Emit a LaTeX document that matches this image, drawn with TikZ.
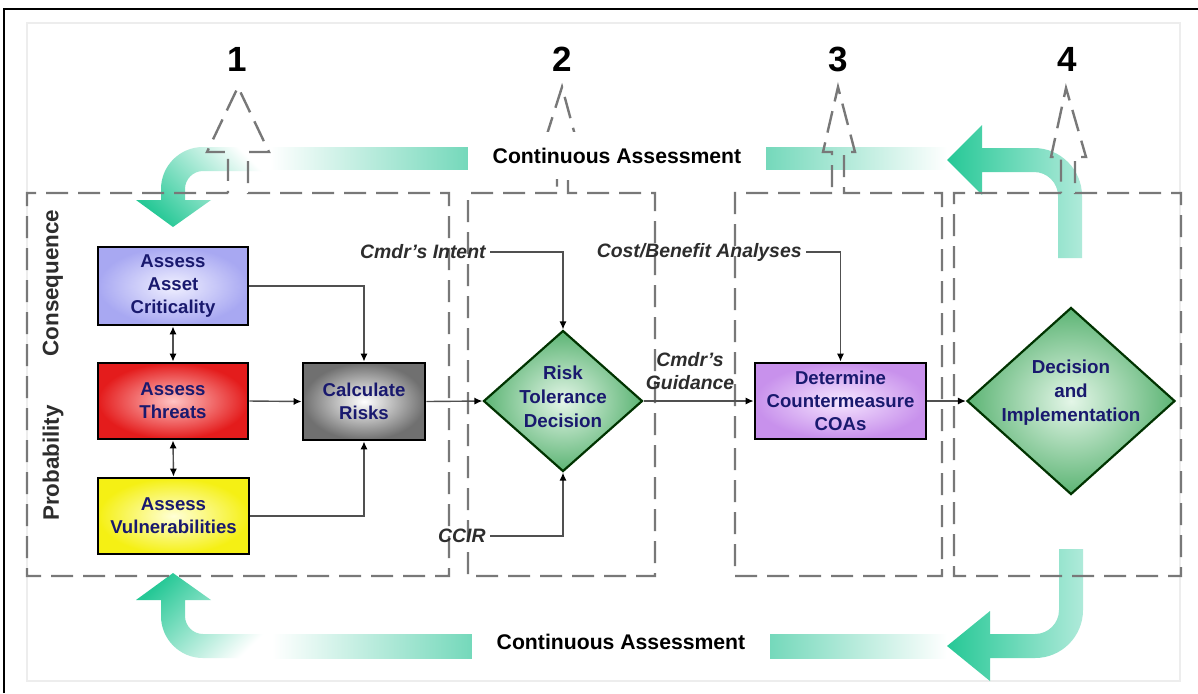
\documentclass[tikz,border=0pt]{standalone}
\usepackage{fontspec}
\setmainfont{Liberation Sans}
\usetikzlibrary{shapes.geometric,arrows.meta}
\definecolor{navy}{RGB}{25,25,110}
\definecolor{txtgray}{RGB}{45,45,45}
\definecolor{dashgray}{RGB}{120,120,120}
\definecolor{cgreen}{RGB}{38,200,150}
\definecolor{cmint}{RGB}{175,234,218}
\definecolor{cmid}{RGB}{115,216,186}
\definecolor{linegray}{RGB}{80,80,80}
\begin{document}
\begin{tikzpicture}[x=0.5pt,y=-0.5pt,
  procbox/.style={draw=black, line width=1.4pt, align=center, inner sep=0pt,
    font=\fontsize{9.3}{11.5}\selectfont\bfseries, text=navy},
  diam/.style={diamond, draw=black!80!green, line width=1.1pt, inner sep=0pt,
    inner color={rgb,255:red,228;green,246;blue,232}, outer color={rgb,255:red,92;green,180;blue,116}},
  dtext/.style={align=center, inner sep=0pt, font=\fontsize{9.4}{12}\selectfont\bfseries, text=navy},
  conn/.style={draw=linegray, line width=0.7pt, -{Latex[length=4pt,width=3.6pt,color=black]}},
  biconn/.style={draw=linegray, line width=0.7pt, {Latex[length=4pt,width=3.6pt,color=black]}-{Latex[length=4pt,width=3.6pt,color=black]}},
  lab/.style={font=\fontsize{9.7}{11.5}\selectfont\bfseries\itshape, text=txtgray, inner sep=2pt},
  dline/.style={draw=dashgray, line width=1.2pt, dash pattern=on 11pt off 5pt, line join=miter},
  num/.style={font=\fontsize{17.5}{20}\selectfont\bfseries, text=black},
  side/.style={font=\fontsize{11.2}{13}\selectfont\bfseries, text=txtgray, rotate=90},
  cabox/.style={fill=white, minimum width=149pt, minimum height=23.5pt, inner sep=0pt,
    font=\fontsize{10.6}{12}\selectfont\bfseries, text=black}
]
\useasboundingbox (0,0) rectangle (1198,693);
\fill[white] (0,0) rectangle (1198,693);
% frames
\draw[black, line width=1pt] (4,693) -- (4,9) -- (1198,9);
\draw[black!7, line width=0.6pt] (27,23) rectangle (1180,681);

% ---- green continuous-assessment arrows ----
% top band pieces
\shade[left color=white, right color=cmid] (270,147) rectangle (470,169);
\shade[left color=cmid, right color=white] (764,147) rectangle (947,169);
% top-right arrow
\shade[left color=cgreen, right color=cmint]
  (1058,258) -- (1058,196) .. controls (1058,182.75) and (1047.25,172) .. (1034,172)
  -- (982,172) -- (982,195) -- (947,160) -- (982,125) -- (982,148) -- (1034,148)
  .. controls (1060.5,148) and (1082,169.5) .. (1082,196) -- (1082,258) -- cycle;
% top-left arrow
\shade[top color=white, bottom color=cgreen, shading angle=-45]
  (136,200) -- (173,227) -- (211,200) -- (185,200) -- (185,189)
  .. controls (185,179.1) and (193.1,171) .. (203,171) -- (270,171) -- (270,147)
  -- (203,147) .. controls (179.8,147) and (161,165.8) .. (161,189) -- (161,200) -- cycle;
% bottom band pieces
\shade[left color=white, right color=cmid] (272,634) rectangle (474,658);
\shade[left color=cmid, right color=white] (768,634) rectangle (947,658);
% bottom-right arrow
\shade[left color=cgreen, right color=cmint]
  (1059,549) -- (1059,610) .. controls (1059,623.25) and (1048.25,634) .. (1035,634)
  -- (990,634) -- (990,611) -- (947,646) -- (990,681) -- (990,658) -- (1035,658)
  .. controls (1061.5,658) and (1083,636.5) .. (1083,610) -- (1083,549) -- cycle;
% bottom-left arrow
\shade[top color=cgreen, bottom color=white, shading angle=45]
  (136,600) -- (173,573) -- (211,600) -- (185,600) -- (185,616)
  .. controls (185,625.9) and (193.1,634) .. (203,634) -- (272,634) -- (272,658)
  -- (203,658) .. controls (179.8,658) and (161,639.2) .. (161,616) -- (161,600) -- cycle;

% ---- dashed phase boxes with outline arrows ----
\draw[dline] (228,193) -- (27,193) -- (27,576) -- (449,576) -- (449,193) -- (248,193)
  -- (248,152) -- (269,152) -- (238,87) -- (207,152) -- (228,152) -- cycle;
\draw[dline] (557,193) -- (468,193) -- (468,576) -- (655,576) -- (655,193) -- (568,193)
  -- (568,150) -- (579,150) -- (562,87) -- (542,150) -- (557,150) -- cycle;
\draw[dline] (832,193) -- (735,193) -- (735,576) -- (942,576) -- (942,193) -- (844,193)
  -- (844,152) -- (855,152) -- (838,87) -- (823,152) -- (832,152) -- cycle;
\draw[dline] (1061,193) -- (954,193) -- (954,576) -- (1181,576) -- (1181,193) -- (1075,193)
  -- (1075,157) -- (1086,157) -- (1066,88) -- (1051,157) -- (1061,157) -- cycle;

% labels "Continuous Assessment"
\node[cabox] (catop) at (617,155.5) {Continuous Assessment};
\node[cabox] (cabot) at (621,641.5) {Continuous Assessment};

% phase numbers
\node[num] (n1) at (237,59) {1};
\node[num] (n2) at (562,59) {2};
\node[num] (n3) at (838,59) {3};
\node[num] (n4) at (1067,59) {4};

% side labels
\node[side] (cons) at (53,283) {Consequence};
\node[side] (prob) at (53,463) {Probability};

% process boxes
\node[procbox, minimum width=75pt, minimum height=39pt,
  inner color={rgb,255:red,240;green,240;blue,255}, outer color={rgb,255:red,168;green,168;blue,242}]
  (asset) at (173,286) {Assess\\Asset\\Criticality};
\node[procbox, minimum width=75pt, minimum height=38pt,
  inner color={rgb,255:red,255;green,195;blue,195}, outer color={rgb,255:red,228;green,28;blue,28}]
  (threat) at (173,401) {Assess\\Threats};
\node[procbox, minimum width=75.5pt, minimum height=38pt,
  inner color={rgb,255:red,255;green,255;blue,215}, outer color={rgb,255:red,245;green,240;blue,20}]
  (vuln) at (173.5,516) {Assess\\Vulnerabilities};
\node[procbox, minimum width=61pt, minimum height=38.5pt,
  inner color=white, outer color={rgb,255:red,112;green,112;blue,112}]
  (calc) at (364,401.5) {Calculate\\Risks};
\node[procbox, minimum width=85.5pt, minimum height=38pt,
  inner color={rgb,255:red,246;green,230;blue,255}, outer color={rgb,255:red,200;green,145;blue,236}]
  (det) at (840.5,401) {Determine\\Countermeasure\\COAs};

% diamonds
\node[diam, minimum width=79.5pt, minimum height=70.5pt] (rd) at (563,401) {};
\node[dtext] (rdt) at (563,397) {Risk\\Tolerance\\Decision};
\node[diam, minimum width=104pt, minimum height=93.5pt] (dd) at (1071,401) {};
\node[dtext] (ddt) at (1071,393) {Decision\\and\\Implementation};

% text labels
\node[lab, anchor=east] (intent) at (490,252) {Cmdr’s Intent};
\node[lab, anchor=east] (ccir) at (490,536) {CCIR};
\node[lab, anchor=east] (cba) at (806,252) {Cost/Benefit Analyses};
\node[lab, align=center] (guid) at (690,371) {Cmdr’s\\Guidance};

% connectors
\draw[biconn] (asset.south) -- (threat.north);
\draw[biconn] (threat.south) -- (vuln.north);
\draw[conn] (asset.east) -| (calc.north);
\draw[conn] (threat.east) -- (calc.west);
\draw[conn] (vuln.east) -| (calc.south);
\draw[conn] (calc.east) -- (rd.west);
\draw[conn] (intent.east) -| (rd.north);
\draw[conn] (ccir.east) -| (rd.south);
\draw[conn] (rd.east) -- (det.west);
\draw[conn] (cba.east) -| (det.north);
\draw[conn] (det.east) -- (dd.west);
\end{tikzpicture}
\end{document}
